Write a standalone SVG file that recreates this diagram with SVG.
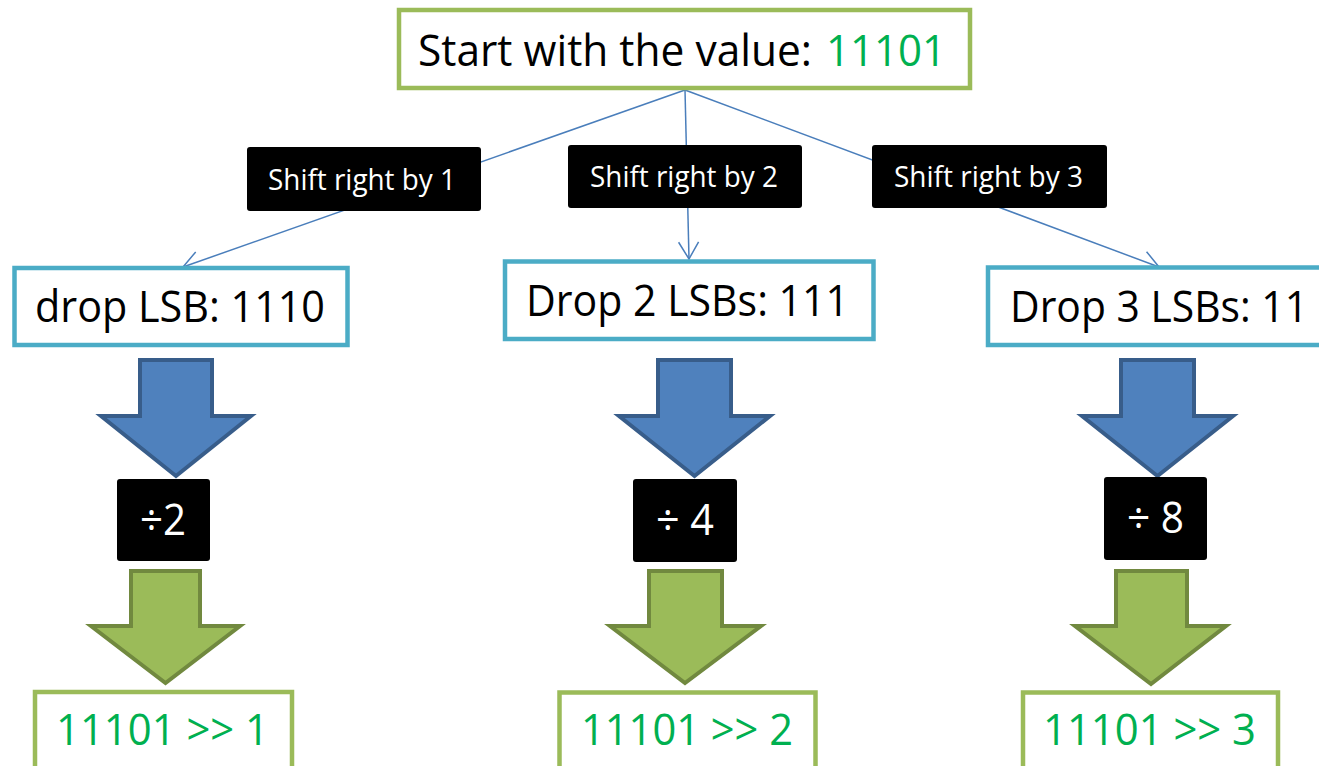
<svg xmlns="http://www.w3.org/2000/svg" width="1319" height="766" viewBox="0 0 1319 766">
  <defs>
    <style>
      text { font-family: "Open Sans", "Liberation Sans", sans-serif; }
      .big { font-size: 43px; }
      .lbl { font-size: 29px; fill: #FFFFFF; }
      .dark { fill: #000000; }
      .num { fill: #00B050; }
      .white { fill: #FFFFFF; }
      .box-green { fill: #FFFFFF; stroke: #9BBB59; stroke-width: 4.5; }
      .box-blue { fill: #FFFFFF; stroke: #4BACC6; stroke-width: 4.5; }
      .tag { fill: #000000; }
      .arrow-blue { fill: #4F81BD; stroke: #385D8A; stroke-width: 4; stroke-linejoin: miter; }
      .arrow-green { fill: #9BBB59; stroke: #71893F; stroke-width: 4; stroke-linejoin: miter; }
      .conn { fill: none; stroke: #4A7EBB; stroke-width: 1.5; marker-end: url(#open-arrow); }
    </style>
    <marker id="open-arrow" markerUnits="userSpaceOnUse" viewBox="-20 -12 22 24" markerWidth="22" markerHeight="24" refX="0" refY="0" orient="auto">
      <path d="M-17,-10 L0,0 L-17,10" fill="none" stroke="#4A7EBB" stroke-width="1.5"/>
    </marker>
  </defs>

  <rect width="1319" height="766" fill="#FFFFFF"/>

  <!-- connectors from the start value to each shifted result -->
  <g id="connectors">
    <line class="conn" x1="685" y1="90" x2="183" y2="267"/>
    <line class="conn" x1="685" y1="90" x2="689" y2="259"/>
    <line class="conn" x1="685" y1="90" x2="1159" y2="267"/>
  </g>

  <!-- start value -->
  <g id="start">
    <rect class="box-green" x="399" y="10" width="571" height="78"/>
    <text class="big dark" x="418" y="66" textLength="394" lengthAdjust="spacingAndGlyphs">Start with the value:</text>
    <text class="big num" x="826" y="66" textLength="120" lengthAdjust="spacingAndGlyphs">11101</text>
  </g>

  <!-- edge labels -->
  <g id="label-shift1">
    <rect class="tag" x="247" y="147" width="234" height="64" rx="3"/>
    <text class="lbl" x="268" y="190" textLength="188" lengthAdjust="spacingAndGlyphs">Shift right by 1</text>
  </g>
  <g id="label-shift2">
    <rect class="tag" x="568" y="145" width="234" height="63" rx="3"/>
    <text class="lbl" x="590" y="187" textLength="188" lengthAdjust="spacingAndGlyphs">Shift right by 2</text>
  </g>
  <g id="label-shift3">
    <rect class="tag" x="872" y="145" width="235" height="63" rx="3"/>
    <text class="lbl" x="894" y="187" textLength="189" lengthAdjust="spacingAndGlyphs">Shift right by 3</text>
  </g>

  <!-- column 1 -->
  <g id="drop1">
    <rect class="box-blue" x="14.5" y="268" width="333" height="77"/>
    <text class="big dark" x="35" y="322" textLength="290" lengthAdjust="spacingAndGlyphs">drop LSB: 1110</text>
  </g>
  <g id="arrow-blue-1">
    <polygon class="arrow-blue" points="140,360 212,360 212,416 251,416 176,476 101,416 140,416"/>
  </g>
  <g id="div2">
    <rect class="tag" x="117" y="479" width="93" height="82" rx="3"/>
    <text class="big white" x="140" y="535" textLength="46" lengthAdjust="spacingAndGlyphs">÷2</text>
  </g>
  <g id="arrow-green-1">
    <polygon class="arrow-green" points="131,571 200,571 200,626 240,626 165.5,683 91,626 131,626"/>
  </g>
  <g id="result1">
    <rect class="box-green" x="35" y="692" width="257" height="100"/>
    <text class="big num" x="56" y="745" textLength="213" lengthAdjust="spacingAndGlyphs">11101 &gt;&gt; 1</text>
  </g>

  <!-- column 2 -->
  <g id="drop2">
    <rect class="box-blue" x="505" y="261.5" width="368.5" height="77.5"/>
    <text class="big dark" x="526" y="316" textLength="323" lengthAdjust="spacingAndGlyphs">Drop 2 LSBs: 111</text>
  </g>
  <g id="arrow-blue-2">
    <polygon class="arrow-blue" points="658,360 731,360 731,416 770,416 694.5,476 619,416 658,416"/>
  </g>
  <g id="div4">
    <rect class="tag" x="633" y="479" width="104" height="83" rx="3"/>
    <text class="big white" x="656" y="535" textLength="58" lengthAdjust="spacingAndGlyphs">÷ 4</text>
  </g>
  <g id="arrow-green-2">
    <polygon class="arrow-green" points="649,571 722,571 722,626 761,626 685,683 610,626 649,626"/>
  </g>
  <g id="result2">
    <rect class="box-green" x="559.5" y="692.5" width="256" height="100"/>
    <text class="big num" x="581" y="745" textLength="212" lengthAdjust="spacingAndGlyphs">11101 &gt;&gt; 2</text>
  </g>

  <!-- column 3 -->
  <g id="drop3">
    <rect class="box-blue" x="988" y="267.5" width="350" height="77.5"/>
    <text class="big dark" x="1010" y="322" textLength="298" lengthAdjust="spacingAndGlyphs">Drop 3 LSBs: 11</text>
  </g>
  <g id="arrow-blue-3">
    <polygon class="arrow-blue" points="1121,360 1194,360 1194,416 1233,416 1157.5,476 1082,416 1121,416"/>
  </g>
  <g id="div8">
    <rect class="tag" x="1104" y="477" width="103" height="83" rx="3"/>
    <text class="big white" x="1127" y="533" textLength="57" lengthAdjust="spacingAndGlyphs">÷ 8</text>
  </g>
  <g id="arrow-green-3">
    <polygon class="arrow-green" points="1116,571 1187,571 1187,626 1226,626 1151,684 1075,626 1116,626"/>
  </g>
  <g id="result3">
    <rect class="box-green" x="1023" y="692.5" width="255" height="100"/>
    <text class="big num" x="1043" y="745" textLength="213" lengthAdjust="spacingAndGlyphs">11101 &gt;&gt; 3</text>
  </g>
</svg>
